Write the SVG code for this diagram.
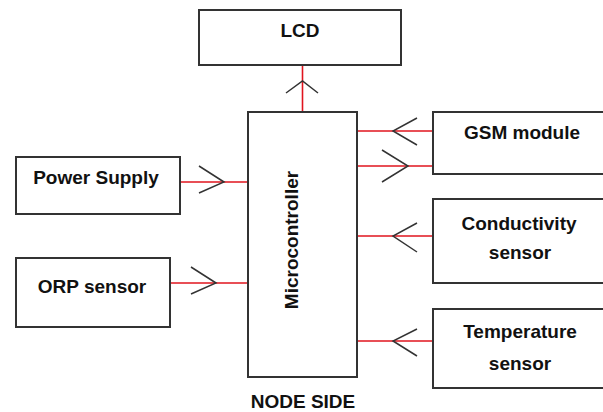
<svg xmlns="http://www.w3.org/2000/svg" width="603" height="412" viewBox="0 0 603 412">
<style>
.box{fill:#fff;stroke:#333;stroke-width:2}
.wire{stroke:#e0141e;stroke-width:1.6;fill:none}
.chev{stroke:#333;stroke-width:1.5;fill:none}
text{font-family:"Liberation Sans",Arial,sans-serif;font-weight:bold;font-size:19px;fill:#111;text-anchor:middle}
</style>
<rect width="603" height="412" fill="#fff"/>
<g id="connectors">
<path class="wire" d="M302.5 65V112"/>
<path class="chev" d="M286 93L302.5 81L318 93"/>
<path class="wire" d="M180 182H248"/>
<path class="chev" d="M199 166L224 182L199 193"/>
<path class="wire" d="M170 283H248"/>
<path class="chev" d="M191 267L216 283L191 294"/>
<path class="wire" d="M357 131H433"/>
<path class="chev" d="M417 118L393 131L417 145"/>
<path class="wire" d="M357 166H433"/>
<path class="chev" d="M382 150L408 166L382 182"/>
<path class="wire" d="M357 236H433"/>
<path class="chev" d="M417 223L393 236L417 252"/>
<path class="wire" d="M357 341H433"/>
<path class="chev" d="M417 329L393 341L417 356"/>
</g>
<g id="lcd">
<rect class="box" x="199" y="10" width="202" height="55"/>
<text x="300" y="37" font-size="18">LCD</text>
</g>
<g id="microcontroller">
<rect class="box" x="248" y="112" width="109" height="265"/>
<text x="298" y="240" transform="rotate(-90 298 240)">Microcontroller</text>
</g>
<g id="power">
<rect class="box" x="16" y="157" width="164" height="57"/>
<text x="96" y="184">Power Supply</text>
</g>
<g id="orp">
<rect class="box" x="16" y="258" width="154" height="69"/>
<text x="92" y="293">ORP sensor</text>
</g>
<g id="gsm">
<rect class="box" x="433" y="112" width="180" height="62"/>
<text x="522" y="139">GSM module</text>
</g>
<g id="conductivity">
<rect class="box" x="433" y="199" width="180" height="84"/>
<text x="519" y="230">Conductivity</text>
<text x="520" y="259">sensor</text>
</g>
<g id="temperature">
<rect class="box" x="433" y="309" width="180" height="79"/>
<text x="520" y="338">Temperature</text>
<text x="520" y="370">sensor</text>
</g>
<g id="nodeside">
<text x="303" y="408" font-size="18">NODE SIDE</text>
</g>
</svg>
